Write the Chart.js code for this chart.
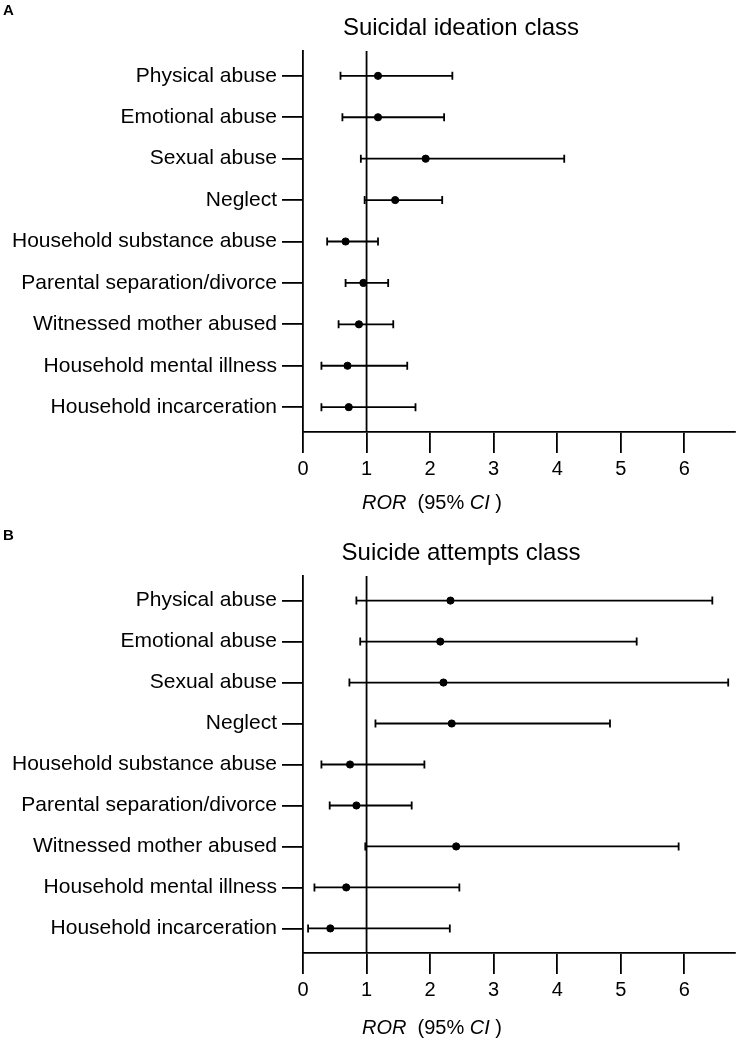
<!DOCTYPE html>
<html>
<head>
<meta charset="utf-8">
<script src="https://cdn.jsdelivr.net/npm/chart.js@4"></script>
<style>
  body { margin:0; background:#fff; }
  canvas { position:absolute; left:0; }
  #chartA { top:0; }
  #chartB { top:525px; }
</style>
</head>
<body>
<canvas id="chartA" width="741" height="521"></canvas>
<canvas id="chartB" width="741" height="517"></canvas>
<script>
const categories = ['Physical abuse','Emotional abuse','Sexual abuse','Neglect','Household substance abuse',
  'Parental separation/divorce','Witnessed mother abused','Household mental illness','Household incarceration'];
const xTicks = [0,1,2,3,4,5,6];

// Panel A - suicidal ideation
const ideationROR = [1.18,1.18,1.93,1.45,0.67,0.95,0.88,0.70,0.72];
const ideationLo  = [0.59,0.62,0.91,0.97,0.38,0.67,0.56,0.29,0.29];
const ideationHi  = [2.35,2.22,4.11,2.19,1.18,1.34,1.42,1.64,1.77];

// Panel B - suicide attempts
const attemptsROR = [2.32,2.16,2.21,2.34,0.74,0.84,2.41,0.68,0.43];
const attemptsLo  = [0.84,0.90,0.73,1.14,0.29,0.42,0.98,0.18,0.08];
const attemptsHi  = [6.44,5.25,6.69,4.83,1.91,1.71,5.91,2.46,2.31];

const FONT = '"Liberation Sans", Arial, sans-serif';
const LW = 1.8;

function textPlugin(letter, title){
  return {
    id:'texts'+letter,
    afterDraw(chart){
      const c = chart.ctx;
      c.save();
      c.fillStyle = '#000';
      c.textBaseline = 'middle';
      c.font = 'bold 15px ' + FONT;
      c.textAlign = 'left';
      c.fillText(letter, 3, 11);
      c.font = '24px ' + FONT;
      c.textAlign = 'center';
      c.fillText(title, 461, 28);
      // axis title: ROR (95% CI )
      c.textAlign = 'left';
      const parts = [['ROR', true], ['  (95% ', false], ['CI', true], [' )', false]];
      let x = 362;
      parts.forEach(([t, it]) => {
        c.font = (it ? 'italic ' : '') + '20px ' + FONT;
        c.fillText(t, x, 503);
        x += c.measureText(t).width;
      });
      c.restore();
    }
  };
}

function buildChart(id, letter, title, ror, lo, hi){
  const datasets = [];
  // reference line at 1
  datasets.push({ data:[{x:1,y:0.4},{x:1,y:9.6}], showLine:true, borderColor:'#000', borderWidth:LW, pointRadius:0 });
  // CI bars with caps
  categories.forEach((c,i) => {
    datasets.push({
      data:[{x:lo[i],y:i+1},{x:hi[i],y:i+1}],
      showLine:true, borderColor:'#000', borderWidth:LW,
      pointStyle:'line', rotation:90, pointRadius:4, pointBorderWidth:LW, pointBorderColor:'#000'
    });
  });
  // point estimates
  datasets.push({
    data: ror.map((v,i)=>({x:v,y:i+1})),
    pointRadius:3.6, backgroundColor:'#000', borderColor:'#000', pointStyle:'circle'
  });

  new Chart(document.getElementById(id), {
    type:'scatter',
    data:{ datasets },
    options:{
      responsive:false, animation:false,
      layout:{ padding:{ top:51, right:4, left:0, bottom:0 } },
      plugins:{ legend:{ display:false }, tooltip:{ enabled:false } },
      scales:{
        x:{
          type:'linear', min:0, max:6.8,
          afterBuildTicks: s => { s.ticks = xTicks.map(v=>({value:v})); },
          afterFit: s => { s.height = 89; },
          grid:{ drawOnChartArea:false, drawTicks:true, tickLength:21, color:'#000', lineWidth:LW },
          border:{ display:true, color:'#000', width:LW },
          ticks:{ color:'#000', font:{ family:FONT, size:20 }, padding:4, maxRotation:0 }
        },
        y:{
          type:'linear', min:0.4, max:9.6, reverse:true,
          afterBuildTicks: s => { s.ticks = categories.map((c,i)=>({value:i+1})); },
          afterFit: s => { s.width = 303; },
          grid:{ drawOnChartArea:false, drawTicks:true, tickLength:21, color:'#000', lineWidth:LW },
          border:{ display:true, color:'#000', width:LW },
          ticks:{ color:'#000', font:{ family:FONT, size:21 }, padding:5,
                  callback: v => categories[Math.round(v)-1] }
        }
      }
    },
    plugins:[ textPlugin(letter, title) ]
  });
}

buildChart('chartA','A','Suicidal ideation class', ideationROR, ideationLo, ideationHi);
buildChart('chartB','B','Suicide attempts class', attemptsROR, attemptsLo, attemptsHi);
</script>
</body>
</html>
